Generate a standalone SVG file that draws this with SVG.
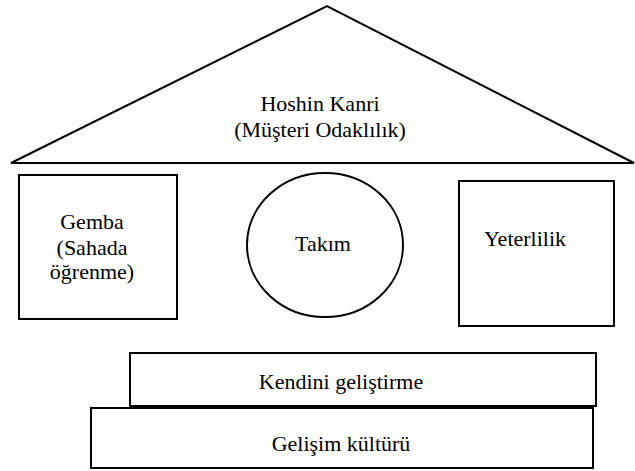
<svg xmlns="http://www.w3.org/2000/svg" width="635" height="471" viewBox="0 0 635 471" font-family="Liberation Serif, Times New Roman, DejaVu Serif, serif" font-size="22">
<style>
.s{fill:#fff;stroke:#000;stroke-width:2}
.t{font-family:"Liberation Serif","Times New Roman",serif;font-size:22px;fill:#000;text-anchor:middle}
</style>
<rect width="635" height="471" fill="#fff"/>
<g id="roof"><polygon class="s" points="11,163 327,6 634,163"/>
<text class="t" x="320" y="111">Hoshin Kanri</text>
<text class="t" x="320" y="137">(Müşteri Odaklılık)</text></g>
<g id="gemba"><rect class="s" x="19" y="175" width="158" height="144"/>
<text class="t" x="92" y="229">Gemba</text>
<text class="t" x="92" y="255">(Sahada</text>
<text class="t" x="92" y="279">öğrenme)</text></g>
<g id="takim"><ellipse class="s" cx="325" cy="245" rx="78" ry="72"/>
<text class="t" x="323" y="251">Takım</text></g>
<g id="yeterlilik"><rect class="s" x="459" y="181" width="155" height="145"/>
<text class="t" x="525" y="246">Yeterlilik</text></g>
<g id="kendini"><rect class="s" x="130" y="353" width="466" height="53"/>
<text class="t" x="341" y="389">Kendini geliştirme</text></g>
<g id="gelisim"><rect class="s" x="91" y="408" width="502" height="60"/>
<text class="t" x="341" y="451">Gelişim kültürü</text></g>
<g id="connectors"/>
</svg>
